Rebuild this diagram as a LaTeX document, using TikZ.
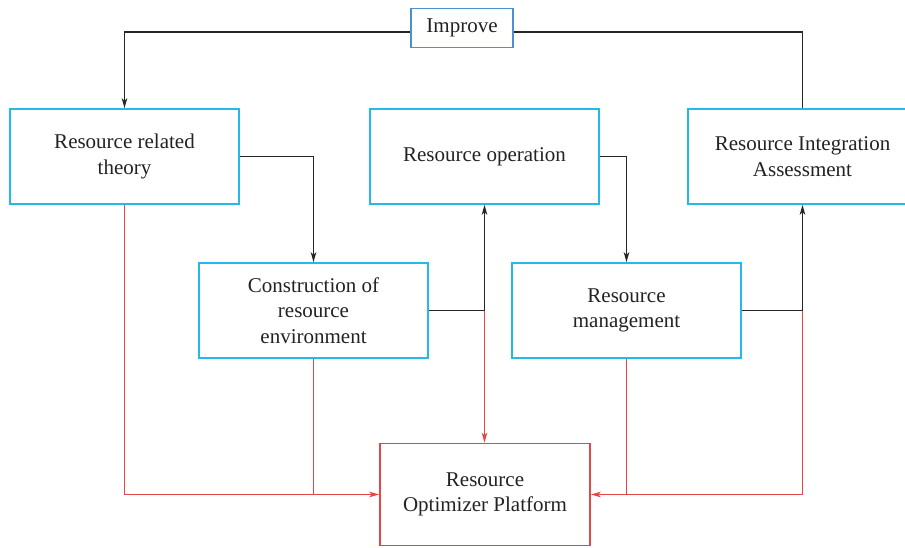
\documentclass[tikz,border=0pt]{standalone}
\usepackage{fontspec}
\setmainfont{Liberation Serif}
\usetikzlibrary{arrows.meta}
\definecolor{boxcyan}{RGB}{35,185,235}
\definecolor{boxblue}{RGB}{75,145,205}
\definecolor{linered}{RGB}{228,70,70}
\definecolor{txt}{RGB}{35,35,35}
\begin{document}
\begin{tikzpicture}[x=1pt,y=-1pt,
  box/.style={draw=boxcyan,line width=1.6pt,fill=white,rectangle,minimum width=229pt,minimum height=95pt,align=center,text=txt,font=\fontsize{21}{25.5}\selectfont,inner sep=0pt},
  blk/.style={draw=black!85,line width=1.3pt,-{Stealth[length=10pt,width=5.5pt,inset=2.5pt]}},
  rd/.style={draw=linered,line width=1.3pt,-{Stealth[length=10pt,width=5.5pt,inset=2.5pt]}},
  plain/.style={draw=black!85,line width=1.3pt}]
\useasboundingbox (0,0) rectangle (905,548);
\clip (0,0) rectangle (905,548);
\fill[white] (0,0) rectangle (905,548);
\node[box,draw=boxblue,minimum width=102pt,minimum height=39pt] (improve) at (462,28) {Improve};
\node[box] (rrt) at (124.5,156.5) {Resource related\\theory};
\node[box] (ro) at (484.5,156.5) {Resource operation};
\node[box] (ria) at (802.5,156.5) {Resource Integration\\Assessment};
\node[box] (cre) at (313.5,310.5) {Construction of\\resource\\environment};
\node[box] (rm) at (626.5,310.5) {Resource\\management};
\node[box,draw=linered,minimum width=210pt,minimum height=102pt] (rop) at (485,494.5) {Resource\\Optimizer Platform};
\coordinate (j1) at (cre.east -| ro.south);
\coordinate (j2) at (rm.east -| ria.south);
% red connectors
\draw[rd] (rrt.south) |- (rop.west);
\draw[plain,draw=linered] (cre.south) -- (cre.south |- rop.west);
\draw[rd] (j1) -- (j1 |- rop.north);
\draw[rd] (j2) |- (rop.east);
\draw[plain,draw=linered] (rm.south) -- (rm.south |- rop.east);
% black connectors
\draw[blk] ([yshift=-4pt]improve.west) -| (rrt.north);
\draw[plain] (ria.north) |- ([yshift=-4pt]improve.east);
\draw[blk] (rrt.east) -| (cre.north);
\draw[blk] (cre.east) -| (ro.south);
\draw[blk] (ro.east) -| (rm.north);
\draw[blk] (rm.east) -| (ria.south);
\end{tikzpicture}
\end{document}
